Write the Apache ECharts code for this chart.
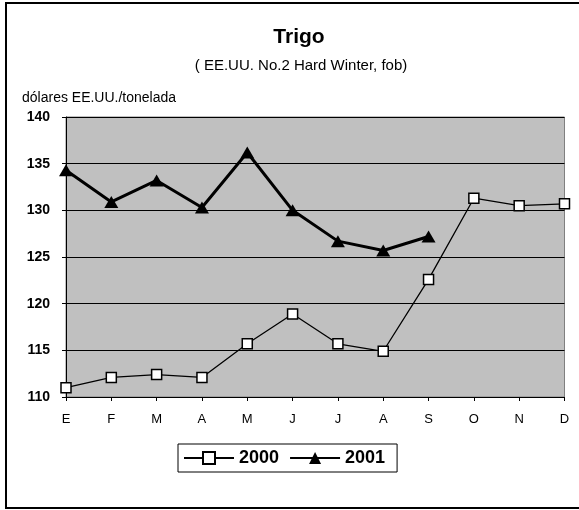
<!DOCTYPE html>
<html>
<head>
<meta charset="utf-8">
<script src="https://cdn.jsdelivr.net/npm/echarts@6/dist/echarts.min.js"></script>
<style>
  html, body { margin: 0; padding: 0; background: #fff; }
  #chart { width: 579px; height: 510px; }
</style>
</head>
<body>
<div id="chart"></div>
<script>
// Monthly categories (Spanish initials)
const months = ['E', 'F', 'M', 'A', 'M', 'J', 'J', 'A', 'S', 'O', 'N', 'D']

// Prices, US$/tonne
const wheat2000 = [111.0, 112.1, 112.4, 112.1, 115.7, 118.9, 115.7, 114.9, 122.6, 131.3, 130.5, 130.7]
const wheat2001 = [134.3, 130.9, 133.2, 130.3, 136.2, 130.0, 126.7, 125.7, 127.2, null, null, null]

// Y axis range
const yMin = 110
const yMax = 140
const yStep = 5

const font = '"Liberation Sans", Arial, sans-serif'

const chart = echarts.init(document.getElementById('chart'))

chart.setOption({
  animation: false,
  title: [
    {
      text: 'Trigo',
      left: 299,
      top: 27,
      padding: 0,
      textAlign: 'center',
      textStyle: { fontFamily: font, fontSize: 21, fontWeight: 'bold', color: '#000' }
    },
    {
      text: '( EE.UU. No.2 Hard Winter, fob)',
      left: 301,
      top: 58,
      padding: 0,
      textAlign: 'center',
      textStyle: { fontFamily: font, fontSize: 15, fontWeight: 'normal', color: '#000' }
    },
    {
      text: 'dólares EE.UU./tonelada',
      left: 22,
      top: 91,
      padding: 0,
      textStyle: { fontFamily: font, fontSize: 14, fontWeight: 'normal', color: '#000' }
    }
  ],
  // outer frame of the chart
  graphic: [
    {
      type: 'rect',
      shape: { x: 6, y: 3, width: 620, height: 505 },
      style: { fill: 'none', stroke: '#000', lineWidth: 2 },
      silent: true
    }
  ],
  legend: {
    left: 178,
    top: 444,
    orient: 'horizontal',
    padding: [5, 12, 5, 5],
    itemWidth: 50,
    itemHeight: 15,
    itemGap: 10,
    borderColor: '#000',
    borderWidth: 1,
    backgroundColor: '#fff',
    textStyle: { fontFamily: font, fontSize: 18, fontWeight: 'bold', color: '#000' },
    data: ['2000', '2001']
  },
  grid: {
    left: 66,
    right: 14.5,
    top: 117,
    bottom: 113,
    show: true,
    backgroundColor: '#c0c0c0',
    borderColor: '#808080',
    borderWidth: 1
  },
  xAxis: {
    type: 'category',
    data: months,
    boundaryGap: false,
    axisLine: { lineStyle: { color: '#000', width: 1 } },
    axisTick: { show: true, alignWithLabel: true, length: 4, lineStyle: { color: '#000' } },
    axisLabel: { fontFamily: font, fontSize: 13, color: '#000', margin: 16, interval: 0 },
    splitLine: { show: false }
  },
  yAxis: {
    type: 'value',
    min: yMin,
    max: yMax,
    interval: yStep,
    axisLine: { show: true, lineStyle: { color: '#000', width: 1 } },
    axisTick: { show: true, length: 4, lineStyle: { color: '#000' } },
    axisLabel: { fontFamily: font, fontSize: 14, fontWeight: 'bold', color: '#000', margin: 16 },
    splitLine: { show: true, lineStyle: { color: '#000', width: 1 } }
  },
  series: [
    {
      name: '2000',
      type: 'line',
      data: wheat2000,
      symbol: 'rect',
      symbolSize: 10,
      showAllSymbol: true,
      lineStyle: { color: '#000', width: 1.3 },
      itemStyle: { color: '#fff', borderColor: '#000', borderWidth: 1.5 },
      z: 3
    },
    {
      name: '2001',
      type: 'line',
      data: wheat2001,
      symbol: 'triangle',
      symbolSize: [14, 12],
      showAllSymbol: true,
      lineStyle: { color: '#000', width: 3 },
      itemStyle: { color: '#000', borderColor: '#000', borderWidth: 0 },
      z: 4
    }
  ]
})
</script>
</body>
</html>
